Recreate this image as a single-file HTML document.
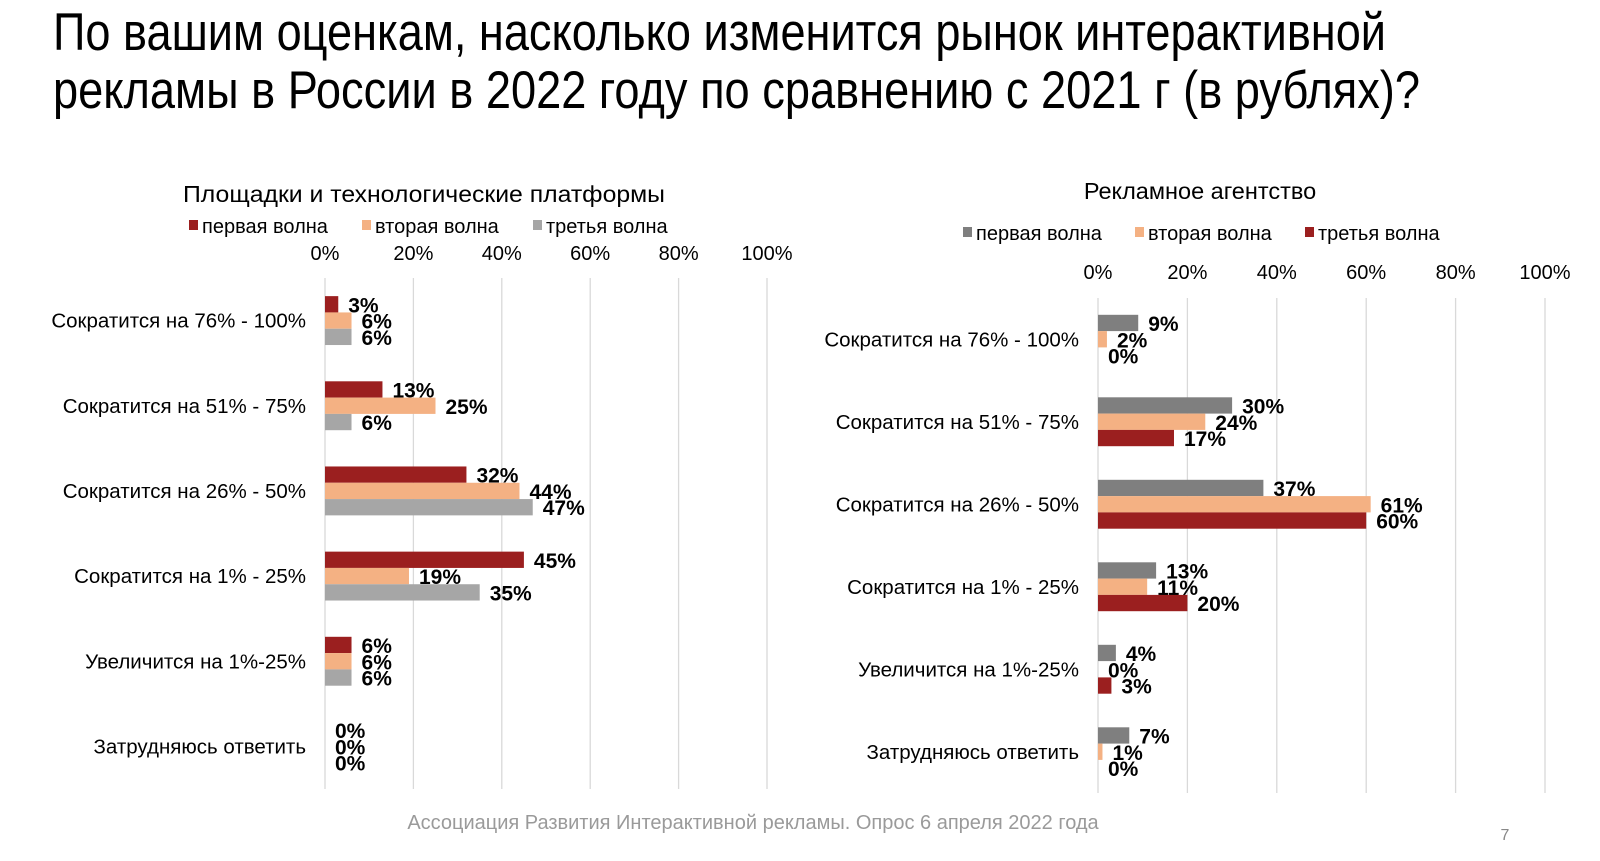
<!DOCTYPE html>
<html><head><meta charset="utf-8">
<style>
html,body{margin:0;padding:0;background:#fff;}
svg{display:block;font-family:"Liberation Sans","DejaVu Sans",sans-serif;}
.cat{font-size:20.5px;fill:#000;text-anchor:end;}
.tick{font-size:20px;fill:#000;text-anchor:middle;}
.val{font-size:21px;font-weight:bold;fill:#000;}
.leg{font-size:20px;fill:#000;}
</style></head>
<body>
<svg id="chart" width="1600" height="861" viewBox="0 0 1600 861" xmlns="http://www.w3.org/2000/svg">
<text x="53" y="50" font-size="53" textLength="1333" lengthAdjust="spacingAndGlyphs">По вашим оценкам, насколько изменится рынок интерактивной</text>
<text x="53" y="108" font-size="53" textLength="1367" lengthAdjust="spacingAndGlyphs">рекламы в России в 2022 году по сравнению с 2021 г (в рублях)?</text>
<text x="424" y="202" font-size="23.5" text-anchor="middle" textLength="482" lengthAdjust="spacingAndGlyphs">Площадки и технологические платформы</text>
<text x="1200" y="199" font-size="23.5" text-anchor="middle">Рекламное агентство</text>
<text x="753" y="829" font-size="20" fill="#9a9a9a" text-anchor="middle">Ассоциация Развития Интерактивной рекламы. Опрос 6 апреля 2022 года</text>
<text x="1505" y="840" font-size="16" fill="#888" text-anchor="middle">7</text>
<g id="left"></g>
<g id="right"></g>
</svg>
<script>
const categories = ["Сократится на 76% - 100%","Сократится на 51% - 75%","Сократится на 26% - 50%","Сократится на 1% - 25%","Увеличится на 1%-25%","Затрудняюсь ответить"];
const tickValues = [0,20,40,60,80,100];
const seriesNames = ["первая волна","вторая волна","третья волна"];
const leftWave1 = [3,13,32,45,6,0];
const leftWave2 = [6,25,44,19,6,0];
const leftWave3 = [6,6,47,35,6,0];
const rightWave1 = [9,30,37,13,4,7];
const rightWave2 = [2,24,61,11,0,1];
const rightWave3 = [0,17,60,20,3,0];

const NS = "http://www.w3.org/2000/svg";
function mk(tag, attrs, parent){
  const el = document.createElementNS(NS, tag);
  for (const k in attrs) el.setAttribute(k, attrs[k]);
  parent.appendChild(el);
  return el;
}

function drawChart(g, cfg){
  const xScale = v => cfg.x0 + v * cfg.pxPer;
  const band = (cfg.bottom - cfg.top) / categories.length;
  const yCenter = i => cfg.top + band * (i + 0.5);
  tickValues.forEach(t => {
    const l = mk("line", {x1:xScale(t), x2:xScale(t), y1:cfg.top, y2:cfg.bottom, stroke:"#d9d9d9", "stroke-width":1.3}, g);
    
    
    const tx = mk("text", {x:xScale(t), y:cfg.tickY, class:"tick"}, g);
    tx.textContent = t + "%";
    
    
  });
  let lx = cfg.legendX;
  seriesNames.forEach((n, s) => {
    const sw = mk("rect", {x:lx, y:cfg.legendY-13, width:9, height:10, fill:cfg.colors[s]}, g);
    
    
    const t = mk("text", {x:lx+13, y:cfg.legendY, class:"leg"}, g);
    t.textContent = n;
    
    
    lx += cfg.legendStep[s];
  });
  const bh = 16.3;
  categories.forEach((c, i) => {
    const cy = yCenter(i);
    const ct = mk("text", {x:cfg.x0 - 19, y:cy + 7, class:"cat"}, g);
    ct.textContent = c;
    
    
    cfg.series.forEach((arr, s) => {
      const v = arr[i];
      const y = cy - 1.5*bh + s*bh;
      const r = mk("rect", {x:xScale(0), y:y, width:Math.max(0, xScale(v)-xScale(0)), height:bh, fill:cfg.colors[s]}, g);
      
      
      const vt = mk("text", {x:xScale(v) + 10, y:y + bh/2 + 8, class:"val"}, g);
      vt.textContent = v + "%";
      
      
    });
  });
}

drawChart(document.getElementById("left"), {
  x0:325, pxPer:4.42, top:278, bottom:789, tickY:260,
  legendX:189, legendY:233, legendStep:[173,171,0],
  colors:["#9b1f1f","#f4b183","#a6a6a6"],
  series:[leftWave1,leftWave2,leftWave3]
});
drawChart(document.getElementById("right"), {
  x0:1098, pxPer:4.47, top:298, bottom:793, tickY:279,
  legendX:963, legendY:240, legendStep:[172,170,0],
  colors:["#7f7f7f","#f4b183","#9b1f1f"],
  series:[rightWave1,rightWave2,rightWave3]
});
</script>
</body></html>
